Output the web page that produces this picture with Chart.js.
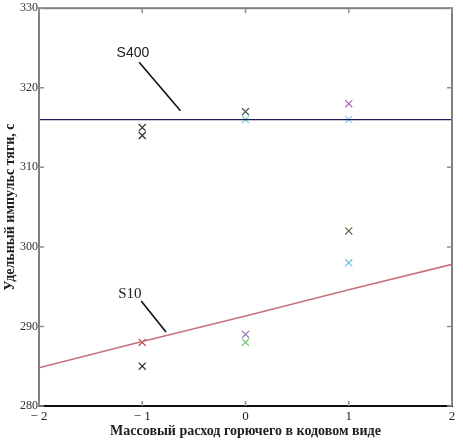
<!DOCTYPE html>
<html><head><meta charset="utf-8">
<script src="https://cdn.jsdelivr.net/npm/chart.js@4/dist/chart.umd.min.js"></script>
<style>html,body{margin:0;padding:0;background:#fff}#wrap{width:463px;height:441px}</style>
</head><body><div id="wrap"><canvas id="c" width="463" height="441"></canvas></div>
<script>
const xTicks = [-2, -1, 0, 1, 2];
const yTicks = [280, 290, 300, 310, 320, 330];
const xTitle = 'Массовый расход горючего в кодовом виде';
const yTitle = 'Удельный импульс тяги, с';

const s400X = [-2, 2];
const s400Y = [316, 316];
const s10X = [-2, -1, 0, 1, 2];
const s10Y = [284.8, 288.1, 291.3, 294.6, 297.8];

const ptX = [-1, -1, -1, -1, 0, 0, 0, 0, 1, 1, 1, 1];
const ptY = [315, 314, 288, 285, 317, 316, 289, 288, 318, 316, 302, 298];
const ptColors = ['#303030', '#303030', '#b03a3a', '#303030', '#404040', '#80d0c8', '#9070b0', '#70c070', '#c060c0', '#80d8e8', '#706848', '#60c8d8'];

const labelNames = ['S400', 'S10'];
const labelX = [-1.09, -1.12];
const labelY = [324.3, 294.1];
const leader400X = [-1.03, -0.63];
const leader400Y = [323.2, 317.1];
const leader10X = [-1.01, -0.77];
const leader10Y = [293.2, 289.3];

const pts = (xs, ys) => xs.map((x, i) => ({x, y: ys[i]}));

const framePlugin = {
  id: 'frame',
  afterDraw(chart) {
    const {ctx, chartArea: a, scales: {x, y}} = chart;
    ctx.save();
    ctx.strokeStyle = '#808080';
    ctx.lineWidth = 2;
    ctx.strokeRect(a.left, a.top, a.right - a.left, a.bottom - a.top);
    ctx.strokeStyle = '#101010';
    ctx.beginPath(); ctx.moveTo(a.left, a.bottom); ctx.lineTo(a.right + 1, a.bottom); ctx.stroke();
    ctx.strokeStyle = '#909090';
    ctx.lineWidth = 1.5;
    ctx.beginPath();
    xTicks.forEach(v => {
      const px = x.getPixelForValue(v);
      ctx.moveTo(px, a.bottom); ctx.lineTo(px, a.bottom - 5);
      ctx.moveTo(px, a.top); ctx.lineTo(px, a.top + 5);
    });
    yTicks.forEach(v => {
      const py = y.getPixelForValue(v);
      ctx.moveTo(a.left, py); ctx.lineTo(a.left + 5, py);
      ctx.moveTo(a.right, py); ctx.lineTo(a.right - 5, py);
    });
    ctx.stroke();
    ctx.fillStyle = '#202020';
    ctx.textAlign = 'center';
    ctx.textBaseline = 'middle';
    labelNames.forEach((t, i) => {
      ctx.font = i === 0 ? '14px "Liberation Sans"' : '15px "Liberation Serif"';
      ctx.fillText(t, x.getPixelForValue(labelX[i]), y.getPixelForValue(labelY[i]));
    });
    ctx.restore();
  }
};

new Chart(document.getElementById('c'), {
  type: 'scatter',
  data: {
    datasets: [
      {data: pts(s400X, s400Y), showLine: true, borderColor: '#1c1c5c', borderWidth: 1.2, pointRadius: 0},
      {data: pts(s10X, s10Y), showLine: true, borderColor: '#c8707c', borderWidth: 1.6, pointRadius: 0},
      {data: pts(leader400X, leader400Y), showLine: true, borderColor: '#101010', borderWidth: 1.6, pointRadius: 0},
      {data: pts(leader10X, leader10Y), showLine: true, borderColor: '#101010', borderWidth: 1.6, pointRadius: 0},
      {data: pts(ptX, ptY), showLine: false, pointStyle: 'crossRot', pointRadius: 5, pointBorderWidth: 1.2,
       pointBorderColor: ptColors, pointBackgroundColor: ptColors}
    ]
  },
  options: {
    responsive: false,
    animation: false,
    devicePixelRatio: 1,
    layout: {padding: {top: 8, right: 11, left: 0, bottom: 0}},
    plugins: {legend: {display: false}, tooltip: {enabled: false}},
    scales: {
      x: {
        type: 'linear', min: -2, max: 2,
        afterBuildTicks: s => { s.ticks = xTicks.map(v => ({value: v})); },
        afterFit: s => { s.height = 35; },
        grid: {display: false, drawTicks: false},
        border: {display: false},
        ticks: {padding: 3, color: '#202020', font: {family: '"Liberation Serif"', size: 13},
          callback: v => (v < 0 ? '\u2212 ' + Math.abs(v) : String(v))},
        title: {display: true, text: xTitle, color: '#202020', padding: {top: 0, bottom: 1},
          font: {family: '"Liberation Serif"', size: 14, weight: 'bold'}}
      },
      y: {
        type: 'linear', min: 280, max: 330,
        afterBuildTicks: s => { s.ticks = yTicks.map(v => ({value: v})); },
        afterFit: s => { s.width = 39; },
        grid: {display: false, drawTicks: false},
        border: {display: false},
        ticks: {padding: 1, color: '#303030', font: {family: '"Liberation Serif"', size: 12}},
        title: {display: true, text: yTitle, color: '#202020', padding: {top: 2, bottom: 0},
          font: {family: '"Liberation Serif"', size: 14, weight: 'bold'}}
      }
    }
  },
  plugins: [framePlugin]
});
</script></body></html>
